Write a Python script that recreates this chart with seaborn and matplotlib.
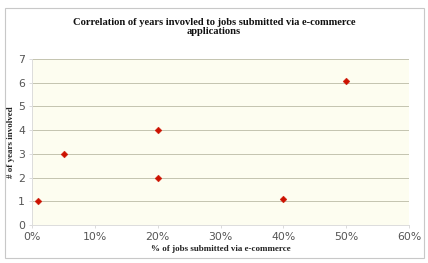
import matplotlib
matplotlib.use("Agg")
import matplotlib.pyplot as plt
import matplotlib.patches as mpatches
from matplotlib.ticker import PercentFormatter
import seaborn as sns
import pandas as pd

# data
pct_jobs = [0.01, 0.05, 0.20, 0.20, 0.40, 0.50]
years_involved = [1, 3, 4, 2, 1.1, 6.05]

df = pd.DataFrame({"pct": pct_jobs, "years": years_involved})

sns.set_style("white")
fig = plt.figure(figsize=(4.28, 2.63), dpi=100)
ax = fig.add_axes([0.075, 0.144, 0.881, 0.632])

ax.set_facecolor("#fdfdf0")
sns.scatterplot(data=df, x="pct", y="years", marker="D", s=12,
                color="#cc1100", edgecolor="#cc1100", linewidth=0.3, ax=ax, zorder=3)

ax.set_xlim(0, 0.6)
ax.set_ylim(0, 7)
ax.set_xticks([0, 0.1, 0.2, 0.3, 0.4, 0.5, 0.6])
ax.set_yticks(range(8))
ax.xaxis.set_major_formatter(PercentFormatter(1.0, decimals=0))
ax.yaxis.grid(True, color="#c4c4b0", linewidth=0.7)
ax.set_axisbelow(True)
for side in ["top", "right"]:
    ax.spines[side].set_visible(False)
for side in ["left", "bottom"]:
    ax.spines[side].set_color("#dcdcdc")
    ax.spines[side].set_linewidth(0.7)
ax.tick_params(axis="both", labelsize=7.8, colors="#555555", length=2, width=0.5,
               color="#cccccc", pad=3, bottom=True, left=True)
for lbl in ax.get_xticklabels() + ax.get_yticklabels():
    lbl.set_family("DejaVu Sans")

ax.set_xlabel("% of jobs submitted via e-commerce", family="Liberation Serif",
              fontweight="bold", fontsize=6.5, color="#222222", labelpad=2)
ax.set_ylabel("# of years involved", family="Liberation Serif",
              fontweight="bold", fontsize=6.5, color="#222222", labelpad=2)

fig.text(0.5, 0.897, "Correlation of years invovled to jobs submitted via e-commerce\napplications",
         ha="center", va="center", family="Liberation Serif", fontweight="bold",
         fontsize=7.6, linespacing=1.05, color="#111111")

fig.patches.append(mpatches.Rectangle((0.012, 0.02), 0.978, 0.95, transform=fig.transFigure,
                                      fill=False, edgecolor="#c8c8c8", linewidth=0.8))

fig.savefig("out.png", dpi=100)
